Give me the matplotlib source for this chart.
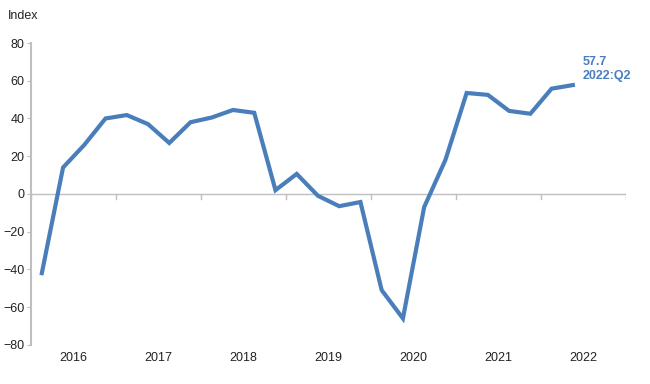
import matplotlib.pyplot as plt

plt.rcParams["font.family"] = ["Liberation Sans", "DejaVu Sans"]

years = ["2016", "2017", "2018", "2019", "2020", "2021", "2022"]
index_values = [
    -42, 14, 26, 40,
    41.8, 37, 27, 38,
    40.5, 44.5, 43, 2,
    10.6, -1, -6.5, -4.3,
    -51, -66, -7, 18,
    53.5, 52.5, 44, 42.5,
    55.8, 57.7,
]
last_label = "57.7\n2022:Q2"

line_color = "#4a7ebb"
grey = "#bfbfbf"

fig = plt.figure(figsize=(6.5, 3.84), dpi=100)
ax = fig.add_axes([0.048, 0.102, 0.915, 0.786])

xs = [i + 0.5 for i in range(len(index_values))]
ax.plot(xs, index_values, color=line_color, linewidth=3.0, solid_joinstyle="miter")

ax.set_xlim(0, 4 * len(years))
ax.set_ylim(-80, 80)
ax.set_yticks(range(-80, 81, 20))
ax.tick_params(axis="y", labelsize=9, length=3, color=grey, labelcolor="#222222", pad=2)

# x axis drawn at zero with year-boundary ticks
ax.axhline(0, color=grey, linewidth=1.0, zorder=0)
for k in range(len(years) + 1):
    ax.plot([4 * k, 4 * k], [0, -2.5], color=grey, linewidth=1.0, zorder=0)
ax.set_xticks([])
for k, yr in enumerate(years):
    ax.text(4 * k + 2, -87, yr, ha="center", va="center", fontsize=9, color="#222222")

for side in ["top", "right", "bottom"]:
    ax.spines[side].set_visible(False)
ax.spines["left"].set_color(grey)
ax.spines["left"].set_linewidth(1.5)

ax.text(-0.039, 1.07, "Index", transform=ax.transAxes, ha="left", va="bottom",
        fontsize=9, color="#222222")
ax.annotate(last_label, xy=(xs[-1], index_values[-1]), xytext=(7, 2),
            textcoords="offset points", ha="left", va="bottom",
            fontsize=9, fontweight="bold", color=line_color, linespacing=1.3)

fig.savefig("out.png", dpi=100)
